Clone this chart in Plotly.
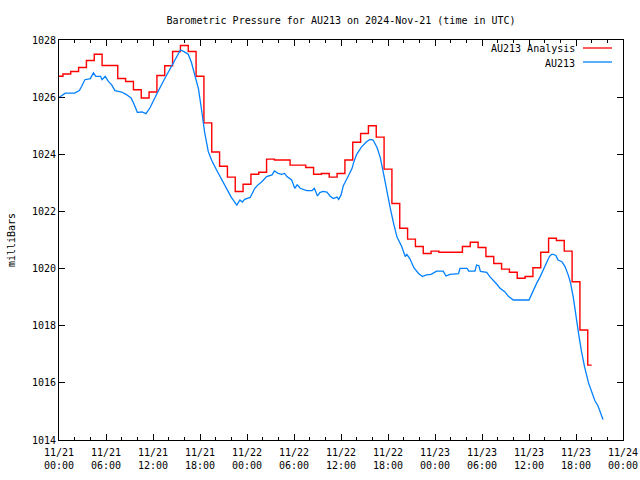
import pandas as pd
import plotly.graph_objects as go

# ---- data ----
start_time = "2024-11-21 00:00"

# AU213 Analysis: hourly values (hours since start), drawn as centred steps
analysis_hours = list(range(0, 69))
analysis_values = [
    1026.73, 1026.81, 1026.90, 1027.04, 1027.28, 1027.50, 1027.11, 1027.11,
    1026.65, 1026.55, 1026.26, 1025.97, 1026.18, 1026.76, 1027.10, 1027.60,
    1027.81, 1027.60, 1026.73, 1025.10, 1024.08, 1023.58, 1023.20, 1022.70,
    1022.95, 1023.30, 1023.37, 1023.83, 1023.80, 1023.80, 1023.62, 1023.62,
    1023.54, 1023.30, 1023.33, 1023.20, 1023.33, 1023.80, 1024.42, 1024.73,
    1025.00, 1024.60, 1023.48, 1022.28, 1021.41, 1021.03, 1020.77, 1020.53,
    1020.61, 1020.57, 1020.57, 1020.57, 1020.77, 1020.92, 1020.74, 1020.42,
    1020.18, 1019.98, 1019.87, 1019.66, 1019.72, 1020.03, 1020.57, 1021.06,
    1020.98, 1020.61, 1019.54, 1017.85, 1016.62,
]

# AU213 observations (hours since start, value)
obs_hours = [
    0.0, 0.4, 0.8, 2.0, 2.6, 2.9, 3.3, 4.0, 4.4, 4.7, 5.3, 5.5, 5.9, 6.3, 6.7,
    7.15, 8.0, 8.6, 9.2, 9.6, 10.0, 10.6, 11.1, 11.6, 11.8, 12.45, 13.3, 14.0,
    14.6, 15.2, 15.5, 15.9, 16.5, 16.9, 17.4, 17.8, 18.2, 18.6, 19.05, 19.5,
    20.1, 20.8, 21.4, 22.0, 22.7, 23.1, 23.4, 23.7, 24.4, 25.0, 25.4, 25.9,
    26.5, 27.2, 27.5, 28.0, 28.4, 28.8, 29.1, 29.7, 30.1, 30.4, 30.8, 31.6,
    32.3, 32.6, 33.0, 33.3, 33.7, 34.2, 34.6, 35.0, 35.5, 35.7, 36.0, 36.3,
    36.9, 37.4, 37.6, 38.0, 38.6, 39.3, 39.7, 40.1, 40.6, 41.0, 41.4, 41.85,
    42.3, 42.7, 43.15, 43.75, 44.2, 44.4, 44.8, 45.3, 45.9, 46.4, 46.9, 47.5,
    48.2, 49.05, 49.4, 49.9, 51.0, 51.2, 52.1, 52.3, 53.1, 53.3, 53.6, 53.8,
    54.6, 55.0, 55.45, 55.9, 56.3, 56.9, 57.4, 58.0, 60.0, 60.5, 61.0, 61.4,
    61.8, 62.2, 62.6, 62.9, 63.1, 63.45, 63.7, 64.2, 64.6, 65.0, 65.3, 65.65,
    66.05, 66.4, 66.7, 67.1, 67.6, 68.0, 68.4, 68.8, 69.1, 69.45,
]
obs_values = [
    1025.99, 1026.05, 1026.14, 1026.14, 1026.23, 1026.38, 1026.61, 1026.65,
    1026.85, 1026.73, 1026.73, 1026.61, 1026.73, 1026.55, 1026.44, 1026.23,
    1026.18, 1026.09, 1025.97, 1025.74, 1025.47, 1025.48, 1025.42, 1025.62,
    1025.72, 1026.09, 1026.55, 1026.90, 1027.20, 1027.55, 1027.65, 1027.60,
    1027.50, 1027.22, 1026.75, 1026.30, 1025.55, 1024.76, 1024.10, 1023.78,
    1023.46, 1023.11, 1022.82, 1022.49, 1022.22, 1022.40, 1022.33, 1022.42,
    1022.49, 1022.81, 1022.93, 1023.04, 1023.22, 1023.28, 1023.42, 1023.33,
    1023.30, 1023.33, 1023.22, 1023.10, 1022.81, 1022.93, 1022.81, 1022.73,
    1022.73, 1022.81, 1022.54, 1022.66, 1022.70, 1022.68, 1022.54, 1022.45,
    1022.50, 1022.42, 1022.57, 1022.90, 1023.22, 1023.50, 1023.70, 1024.00,
    1024.25, 1024.45, 1024.52, 1024.50, 1024.24, 1023.90, 1023.37, 1022.70,
    1022.10, 1021.60, 1021.10, 1020.77, 1020.42, 1020.50, 1020.34, 1020.03,
    1019.83, 1019.72, 1019.78, 1019.80, 1019.91, 1019.91, 1019.74, 1019.80,
    1019.82, 1020.01, 1020.01, 1019.91, 1019.91, 1020.12, 1020.10, 1019.90,
    1019.87, 1019.72, 1019.60, 1019.45, 1019.31, 1019.19, 1019.02, 1018.90,
    1018.90, 1019.22, 1019.50, 1019.70, 1019.93, 1020.22, 1020.42, 1020.50,
    1020.50, 1020.45, 1020.30, 1020.24, 1020.07, 1019.78, 1019.50, 1019.00,
    1018.15, 1017.60, 1017.10, 1016.55, 1016.00, 1015.69, 1015.38, 1015.20,
    1014.95, 1014.72,
]

series_names = ["AU213 Analysis", "AU213"]
series_colors = ["#ff0000", "#0080ff"]
title_text = "Barometric Pressure for AU213 on 2024-Nov-21 (time in UTC)"
y_title = "milliBars"
x_range = ["2024-11-21 00:00", "2024-11-24 00:00"]
y_range = [1014, 1028]

# ---- figure ----
base = pd.Timestamp(start_time)
analysis_x = [base + pd.Timedelta(hours=h) for h in analysis_hours]
obs_x = [base + pd.Timedelta(hours=h) for h in obs_hours]

FONT = "DejaVu Sans Mono, Liberation Mono, monospace"

fig = go.Figure()
fig.add_trace(go.Scatter(x=analysis_x, y=analysis_values, mode="lines",
                         line=dict(color=series_colors[0], width=1.4, shape="hvh"),
                         name=series_names[0], showlegend=False))
fig.add_trace(go.Scatter(x=obs_x, y=obs_values, mode="lines",
                         line=dict(color=series_colors[1], width=1.3),
                         name=series_names[1], showlegend=False))

# gnuplot-style key: text on the left, sample line on the right
L, R, T, B = 59, 17, 40, 40
PW, PH = 640 - L - R, 480 - T - B
def px(xp):
    return (xp - L) / PW
def py(yp):
    return 1 - (yp - T) / PH

for i, (name, col) in enumerate(zip(series_names, series_colors)):
    ypix = 49 + i * 14
    fig.add_annotation(x=px(577), y=py(ypix), xref="paper", yref="paper",
                       text=name, showarrow=False, xanchor="right", yanchor="middle",
                       font=dict(family=FONT, size=10, color="black"))
    fig.add_shape(type="line", xref="paper", yref="paper",
                  x0=px(583), x1=px(612), y0=py(ypix - 1), y1=py(ypix - 1),
                  line=dict(color=col, width=1.3))

fig.update_layout(
    width=640, height=480,
    margin=dict(l=L, r=R, t=T, b=B, autoexpand=False),
    paper_bgcolor="white", plot_bgcolor="white",
    title=dict(text=title_text, x=px(341), xref="paper", xanchor="center",
               y=1 - 20 / 480, yanchor="middle",
               font=dict(family=FONT, size=10, color="black")),
    font=dict(family=FONT, size=10, color="black"),
    showlegend=False,
)
fig.update_xaxes(
    type="date", range=x_range, automargin=False,
    tickformat="%m/%d<br>%H:%M", dtick=6 * 3600 * 1000, tick0=x_range[0],
    ticks="inside", ticklen=6, tickcolor="black", tickwidth=1,
    ticklabelstandoff=3,
    minor=dict(dtick=2 * 3600 * 1000, ticks="inside", ticklen=3, tickcolor="black"),
    showline=True, linecolor="black", linewidth=1, mirror="allticks",
    showgrid=False, zeroline=False,
    tickfont=dict(family=FONT, size=10, color="black"),
)
fig.update_yaxes(
    range=y_range, dtick=2, tick0=1014, automargin=False,
    ticks="inside", ticklen=6, tickcolor="black", tickwidth=1,
    showline=True, linecolor="black", linewidth=1, mirror="allticks",
    showgrid=False, zeroline=False,
    title=dict(text=y_title, standoff=14, font=dict(family=FONT, size=10, color="black")),
    tickfont=dict(family=FONT, size=10, color="black"),
)

fig.write_html(
    "out.html",
    config={"displayModeBar": False},
    post_script="document.body.style.margin='0px';document.body.style.overflow='hidden';",
)
